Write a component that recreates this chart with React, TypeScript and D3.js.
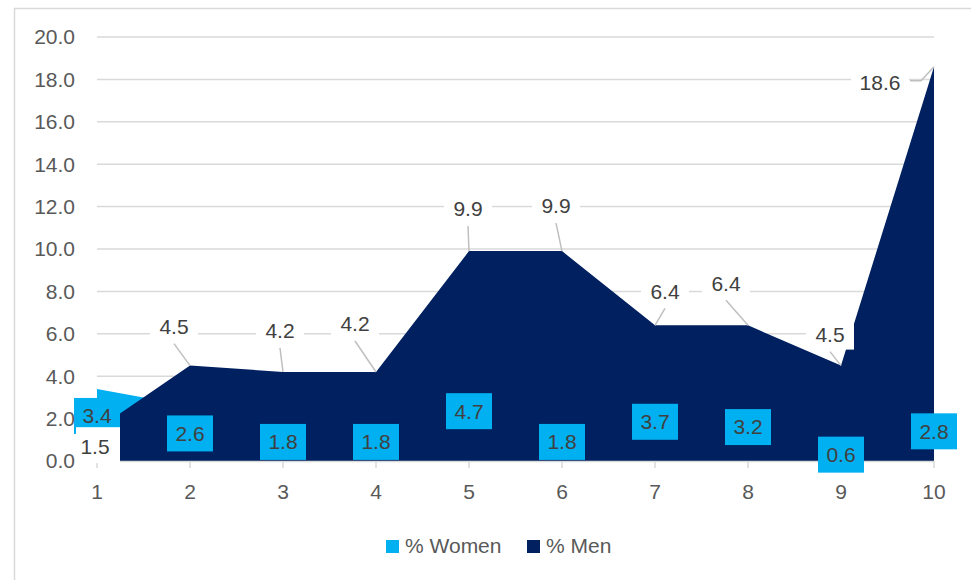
import React from "react";
import * as d3 from "d3";

const categories = [1, 2, 3, 4, 5, 6, 7, 8, 9, 10];
const womenValues = [3.4, 2.6, 1.8, 1.8, 4.7, 1.8, 3.7, 3.2, 0.6, 2.8];
const menValues = [1.5, 4.5, 4.2, 4.2, 9.9, 9.9, 6.4, 6.4, 4.5, 18.6];
const yTicks = [0, 2, 4, 6, 8, 10, 12, 14, 16, 18, 20];
const seriesNames = ["% Women", "% Men"];

const WIDTH = 971;
const HEIGHT = 580;
const WOMEN = "#00B0F0";
const MEN = "#002060";
const GRID = "#d9d9d9";
const AXIS_TEXT = "#595959";
const LABEL_TEXT = "#404040";
const FONT = "'Liberation Sans', Arial, sans-serif";
const FS = 21;

// hand-placed label offsets (px from the point), like the dragged Excel labels
const menLabelOffset: [number, number][] = [
  [-2, 17], [-16, -39], [-3, -41], [-21, -48], [-1, -42],
  [-6, -45], [10, -34], [-22, -42], [-11, -31], [-54, 16],
];
const womenLabelNudge = [-9, 0, 0, 0, 0, 0, 0, 0, 0, 0];

const App: React.FC = () => {
  const x = d3.scaleLinear().domain([1, 10]).range([97, 934]);
  const y = d3.scaleLinear().domain([0, 20]).range([461, 37]);
  const fmt = d3.format(".1f");

  const area = d3
    .area<number>()
    .x((_, i) => x(categories[i]))
    .y0(y(0))
    .y1((d) => y(d));

  return (
    <svg
      width={WIDTH}
      height={HEIGHT}
      style={{ position: "absolute", left: 0, top: 0, background: "#fff" }}
      fontFamily={FONT}
    >
      <rect x={14.5} y={8.5} width={1200} height={1200} fill="#fff" stroke={GRID} strokeWidth={1.5} />

      {/* grid */}
      {yTicks.map((t) => (
        <line key={t} x1={x(1)} x2={x(10)} y1={y(t)} y2={y(t)} stroke={GRID} strokeWidth={1.5} />
      ))}

      {/* areas */}
      <path d={area(womenValues) ?? ""} fill={WOMEN} />
      <path d={area(menValues) ?? ""} fill={MEN} />

      {/* x axis */}
      <line x1={x(1)} x2={x(10)} y1={y(0) + 0.5} y2={y(0) + 0.5} stroke={GRID} strokeWidth={1.5} />
      {categories.map((c) => (
        <g key={c}>
          <line x1={x(c)} x2={x(c)} y1={y(0)} y2={y(0) + 7} stroke={GRID} strokeWidth={1.5} />
          <text x={x(c)} y={492} dy="0.35em" textAnchor="middle" fontSize={FS} fill={AXIS_TEXT}>
            {c}
          </text>
        </g>
      ))}

      {/* women labels */}
      {womenValues.map((v, i) => {
        const cx = x(categories[i]);
        const cy = y(v / 2) + womenLabelNudge[i];
        return (
          <g key={"w" + i}>
            <rect x={cx - 23} y={cy - 18} width={46} height={36} fill={WOMEN} />
            <text x={cx} y={cy} dy="0.35em" textAnchor="middle" fontSize={FS} fill={LABEL_TEXT}>
              {fmt(v)}
            </text>
          </g>
        );
      })}

      {/* men labels with leader lines */}
      {menValues.map((v, i) => {
        const px = x(categories[i]);
        const py = y(v);
        const [dx, dy] = menLabelOffset[i];
        const cx = px + dx;
        const cy = py + dy;
        const wide = v >= 10;
        const w = wide ? 58 : 48;
        let leader: string | null = null;
        if (i > 0 && wide) {
          leader = `M${cx + w / 2 + 1},${cy - 2}H${cx + w / 2 + 12}L${px},${py}`;
        } else if (i > 0) {
          leader = `M${cx},${cy + 17}L${px},${py}`;
        }
        const boxX = i === 0 ? px - 21 : cx - w / 2;
        const boxW = i === 0 ? 44 : w;
        const boxY = i === 0 ? cy - 19 : cy - 15;
        const boxH = i === 0 ? 36 : 30;
        return (
          <g key={"m" + i}>
            {leader && <path d={leader} fill="none" stroke="#bfbfbf" strokeWidth={1.5} />}
            <rect x={boxX} y={boxY} width={boxW} height={boxH} fill="#fff" />
            <text x={cx} y={cy} dy="0.35em" textAnchor="middle" fontSize={FS} fill={LABEL_TEXT}>
              {fmt(v)}
            </text>
          </g>
        );
      })}

      {/* y axis labels */}
      {yTicks.map((t) => (
        <text key={t} x={75} y={y(t)} dy="0.35em" textAnchor="end" fontSize={FS} fill={AXIS_TEXT}>
          {fmt(t)}
        </text>
      ))}

      {/* legend */}
      {seriesNames.map((name, i) => {
        const lx = i === 0 ? 386 : 527;
        return (
          <g key={name}>
            <rect x={lx} y={540} width={13} height={13} fill={i === 0 ? WOMEN : MEN} />
            <text x={lx + 19} y={546} dy="0.35em" fontSize={FS} fill={AXIS_TEXT}>
              {name}
            </text>
          </g>
        );
      })}
    </svg>
  );
};

export default App;
